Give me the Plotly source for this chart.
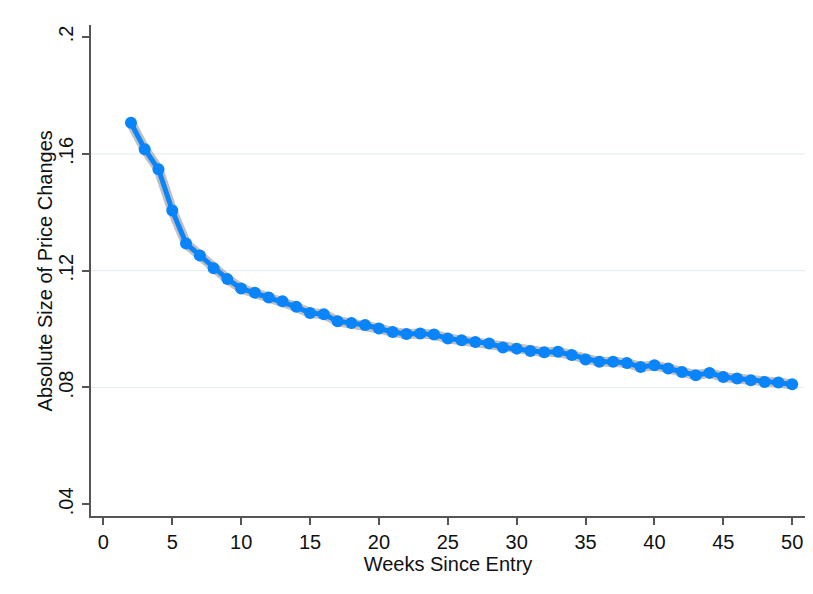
import plotly.graph_objects as go

# Average absolute size of price changes by weeks since product entry
weeks = list(range(2, 51))
abs_size = [
    0.1706, 0.1616, 0.1547, 0.1406, 0.1293, 0.1252, 0.1208, 0.1171, 0.1139,
    0.1124, 0.1108, 0.1095, 0.1076, 0.1055, 0.1051, 0.1027, 0.1021, 0.1014,
    0.1002, 0.0990, 0.0983, 0.0985, 0.0981, 0.0968, 0.0962, 0.0956, 0.0951,
    0.0937, 0.0933, 0.0925, 0.0921, 0.0922, 0.0911, 0.0896, 0.0888, 0.0888,
    0.0884, 0.0870, 0.0876, 0.0865, 0.0853, 0.0842, 0.0850, 0.0836, 0.0831,
    0.0825, 0.0819, 0.0817, 0.0811,
]

x_ticks = list(range(0, 51, 5))
y_ticks = [0.04, 0.08, 0.12, 0.16, 0.2]
y_tick_text = [".04", ".08", ".12", ".16", ".2"]
grid_vals = [0.08, 0.12, 0.16]

BLUE = "#0a84fa"
AXIS = "#555555"
FONT = "Liberation Sans, Arial, sans-serif"
FS = 20

fig = go.Figure()

# soft grey band under the series
fig.add_trace(go.Scatter(
    x=weeks, y=abs_size, mode="lines",
    line=dict(color="rgba(150,150,150,0.6)", width=10),
    hoverinfo="skip", showlegend=False,
))
fig.add_trace(go.Scatter(
    x=weeks, y=abs_size, mode="lines+markers",
    line=dict(color=BLUE, width=5),
    marker=dict(color=BLUE, size=12),
    showlegend=False,
))

for g in grid_vals:
    fig.add_shape(type="line", xref="paper", x0=0, x1=1, yref="y", y0=g, y1=g,
                  line=dict(color="#e6eff1", width=1.2), layer="below")

# vertical axis title, set close to the tick labels
fig.add_annotation(
    text="Absolute Size of Price Changes", textangle=-90,
    xref="paper", yref="paper", x=-0.0645, y=0.5,
    xanchor="center", yanchor="middle", showarrow=False,
    font=dict(size=FS, family=FONT, color="#111111"),
)

fig.update_layout(
    width=813, height=594,
    margin=dict(l=91, r=8, t=25, b=78),
    paper_bgcolor="white", plot_bgcolor="white",
    font=dict(family=FONT, size=FS, color="#111111"),
    xaxis=dict(
        range=[-0.9, 50.93], tickvals=x_ticks, ticks="outside", ticklen=7,
        tickwidth=1.5, tickcolor=AXIS, showline=True, linecolor=AXIS,
        linewidth=1.5, showgrid=False, zeroline=False,
        tickfont=dict(size=FS),
        title=dict(text="Weeks Since Entry", font=dict(size=FS), standoff=2),
    ),
    yaxis=dict(
        range=[0.036, 0.2041], tickvals=y_ticks, ticktext=y_tick_text,
        tickangle=-90, ticks="outside", ticklen=7, tickwidth=1.5,
        tickcolor=AXIS, showline=True, linecolor=AXIS, linewidth=1.5,
        showgrid=False, zeroline=False, tickfont=dict(size=FS),
        ticklabelstandoff=1,
    ),
)

fig.write_html("out.html")
